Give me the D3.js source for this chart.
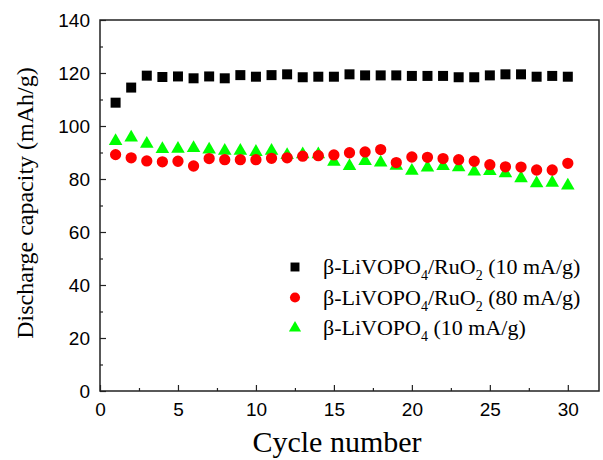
<!DOCTYPE html>
<html>
<head>
<meta charset="utf-8">
<script src="https://cdn.jsdelivr.net/npm/d3@7"></script>
<style>
  body { margin: 0; background: #fff; }
  svg { display: block; }
  .tick text { font-family: "Liberation Sans", Arial, sans-serif; font-size: 19px; fill: #000; }
</style>
</head>
<body>
<div id="chart"></div>
<script>
// data
const cycles = d3.range(1, 31);
const ruo2_10 = [108.8, 114.5, 119.0, 118.5, 118.7, 118.0, 118.7, 118.0, 119.2, 118.6,
                 119.2, 119.5, 118.4, 118.6, 118.6, 119.5, 119.1, 119.1, 119.1, 118.9,
                 118.9, 118.9, 118.4, 118.4, 119.1, 119.5, 119.5, 118.6, 118.9, 118.6];
const ruo2_80 = [89.2, 88.0, 86.8, 86.5, 86.7, 84.9, 87.7, 87.3, 87.3, 87.3,
                 87.8, 88.0, 88.6, 88.8, 89.1, 89.9, 90.2, 91.1, 86.2, 88.3,
                 88.2, 87.7, 87.3, 86.7, 85.4, 84.6, 84.5, 83.4, 83.4, 85.9];
const bare_10 = [94.3, 95.6, 93.3, 91.3, 91.4, 91.7, 91.1, 90.6, 90.6, 90.2,
                 90.6, 89.0, 89.3, 89.3, 86.5, 84.9, 86.8, 86.2, 85.0, 83.1,
                 84.3, 84.9, 84.4, 82.8, 83.0, 82.1, 80.3, 78.4, 78.6, 77.5];
const xTicks = [0, 5, 10, 15, 20, 25, 30];
const yTicks = [0, 20, 40, 60, 80, 100, 120, 140];

const series = [
  { label: ["β-LiVOPO", "4", "/RuO", "2", " (10 mA/g)"], values: ruo2_10, color: "#000000", shape: d3.symbolSquare, size: 100 },
  { label: ["β-LiVOPO", "4", "/RuO", "2", " (80 mA/g)"], values: ruo2_80, color: "#ff0000", shape: d3.symbolCircle, size: 100 },
  { label: ["β-LiVOPO", "4", " (10 mA/g)"], values: bare_10, color: "#00ff00", shape: d3.symbolTriangle, size: 80 }
];

const W = 603, H = 460;
const mLeft = 100, mRight = 599, mTop = 20, mBottom = 391;

const svg = d3.select("#chart").append("svg").attr("width", W).attr("height", H);

const x = d3.scaleLinear().domain([0, 32]).range([mLeft, mRight]);
const y = d3.scaleLinear().domain([0, 140]).range([mBottom, mTop]);

const axisColor = "#222";

// minor ticks
svg.append("g").attr("transform", `translate(0,${mBottom})`)
  .call(d3.axisBottom(x).tickValues(d3.range(2.5, 32, 5)).tickSize(-3).tickFormat(""))
  .call(g => g.select(".domain").remove());
svg.append("g").attr("transform", `translate(${mLeft},0)`)
  .call(d3.axisLeft(y).tickValues(d3.range(10, 140, 20)).tickSize(-3).tickFormat(""))
  .call(g => g.select(".domain").remove());

// major axes
svg.append("g").attr("transform", `translate(0,${mBottom})`)
  .call(d3.axisBottom(x).tickValues(xTicks).tickSize(-6).tickPadding(12).tickSizeOuter(0));
svg.append("g").attr("transform", `translate(${mLeft},0)`)
  .call(d3.axisLeft(y).tickValues(yTicks).tickSize(-6).tickPadding(10).tickSizeOuter(0));

svg.selectAll(".tick line").attr("stroke", axisColor).attr("stroke-width", 1.2);
svg.selectAll(".domain").remove();

// frame
svg.append("rect")
  .attr("x", mLeft).attr("y", mTop)
  .attr("width", mRight - mLeft).attr("height", mBottom - mTop)
  .attr("fill", "none").attr("stroke", axisColor).attr("stroke-width", 1.5);

// markers: red circles sit on top of the green triangles
[series[0], series[2], series[1]].forEach(s => {
  svg.append("g").selectAll("path")
    .data(s.values)
    .join("path")
    .attr("transform", (d, i) => `translate(${x(cycles[i])},${y(d)})`)
    .attr("d", d3.symbol().type(s.shape).size(s.size))
    .attr("fill", s.color);
});

// legend
const legend = svg.append("g");
const rowY = [267, 297.5, 328];
series.forEach((s, i) => {
  legend.append("path")
    .attr("transform", `translate(295,${rowY[i]})`)
    .attr("d", d3.symbol().type(s.shape).size(s.size * 0.8))
    .attr("fill", s.color);
  const t = legend.append("text")
    .attr("x", 323).attr("y", rowY[i] + 7)
    .attr("font-family", "'Liberation Serif', 'Times New Roman', serif")
    .attr("font-size", 22);
  s.label.forEach((part, j) => {
    const sub = j % 2 === 1;
    t.append("tspan")
      .attr("font-size", sub ? 14 : 22)
      .attr("dy", sub ? 6 : (j > 0 ? -6 : 0))
      .text(part);
  });
});

// axis titles
svg.append("text")
  .attr("x", 337).attr("y", 452)
  .attr("text-anchor", "middle")
  .attr("font-family", "'Liberation Serif', 'Times New Roman', serif")
  .attr("font-size", 30)
  .text("Cycle number");

svg.append("text")
  .attr("transform", "translate(33,203) rotate(-90)")
  .attr("text-anchor", "middle")
  .attr("font-family", "'Liberation Serif', 'Times New Roman', serif")
  .attr("font-size", 24)
  .text("Discharge capacity (mAh/g)");
</script>
</body>
</html>
